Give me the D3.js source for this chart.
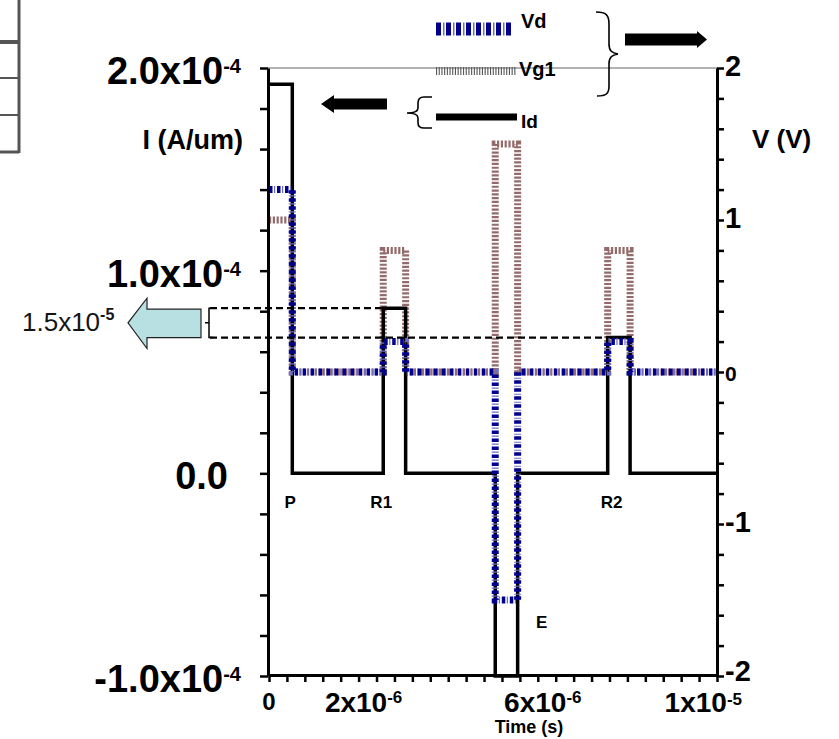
<!DOCTYPE html>
<html>
<head>
<meta charset="utf-8">
<script src="https://cdn.jsdelivr.net/npm/d3@7"></script>
<style>
  body { margin: 0; background: #fff; }
  svg { display: block; font-family: "Liberation Sans", Arial, sans-serif; }
</style>
</head>
<body>
<svg id="chart" width="839" height="739"></svg>
<script>
// Pulse sequence: edges of each interval (s) and the level held in it
const timeEdges = [0, 0.52e-6, 2.55e-6, 3.05e-6, 5.05e-6, 5.55e-6, 7.56e-6, 8.06e-6, 1.0e-5];
const idLevels = [1.92e-4, 0, 0.815e-4, 0, -1.0e-4, 0, 0.67e-4, 0];   // A/um
const vdLevels = [1.2, 0, 0.2, 0, -1.5, 0, 0.2, 0];                   // V
const vg1Levels = [1.0, 0, 0.8, 0, 1.5, 0, 0.8, 0];                   // V

// Axis ticks and labels
const iTicks = [2e-4, 1e-4, 0, -1e-4];
const iTickText = [['2.0x10', '-4'], ['1.0x10', '-4'], ['0.0', ''], ['-1.0x10', '-4']];
const vTicks = [2, 1, 0, -1, -2];
const vTickText = ['2', '1', '0', '-1', '-2'];
const tTicks = [0, 2e-6, 6e-6, 1e-5];
const tTickText = [['0', ''], ['2x10', '-6'], ['6x10', '-6'], ['1x10', '-5']];
const pulseLabels = ['P', 'R1', 'E', 'R2'];
const legendNames = ['Vd', 'Vg1', 'Id'];
const deltaText = ['1.5x10', '-5'];

const svg = d3.select('#chart');

// Scales
const x = d3.scaleLinear().domain([0, 1e-5]).range([269, 717]);
const yI = d3.scaleLinear().domain([-1e-4, 2e-4]).range([676, 68]);
const yV = d3.scaleLinear().domain([-2, 2]).range([676, 68]);

// step series -> points
function steps(levels) {
    const pts = levels.map((v, i) => ({t: timeEdges[i], v: v}));
    pts.push({t: timeEdges[timeEdges.length - 1], v: levels[levels.length - 1]});
    return pts;
}
const lineI = d3.line().curve(d3.curveStepAfter).x(d => x(d.t)).y(d => yI(d.v));
const lineV = d3.line().curve(d3.curveStepAfter).x(d => x(d.t)).y(d => yV(d.v));

// bit of a table cut off at the left edge
const tbl = svg.append('g').attr('stroke', '#555').attr('fill', 'none');
tbl.append('line').attr('x1', 19).attr('x2', 19).attr('y1', 0).attr('y2', 153).attr('stroke-width', 3);
[[42, 4], [78, 2], [115, 2], [152, 3]].forEach(r => {
    tbl.append('line').attr('x1', 0).attr('x2', 19).attr('y1', r[0]).attr('y2', r[0]).attr('stroke-width', r[1]);
});

// top frame line
svg.append('line')
    .attr('x1', x(0) - 1).attr('x2', x(1e-5))
    .attr('y1', yI(2e-4)).attr('y2', yI(2e-4))
    .attr('stroke', '#999').attr('stroke-width', 1.5);

// Curves
svg.append('path').datum(steps(vg1Levels))
    .attr('d', lineV).attr('fill', 'none')
    .attr('stroke', '#946a6a').attr('stroke-width', 7)
    .attr('stroke-dasharray', '2.2,1.6');

svg.append('path').datum(steps(idLevels))
    .attr('d', lineI).attr('fill', 'none')
    .attr('stroke', '#000').attr('stroke-width', 3.5);

// Vd: dark blocks plus thin light bars
svg.append('path').datum(steps(vdLevels))
    .attr('d', lineV).attr('fill', 'none')
    .attr('stroke', '#7070c0').attr('stroke-width', 7)
    .attr('stroke-dasharray', '1.2,6.8').attr('stroke-dashoffset', 3);
svg.append('path').datum(steps(vdLevels))
    .attr('d', lineV).attr('fill', 'none')
    .attr('stroke', '#000090').attr('stroke-width', 7)
    .attr('stroke-dasharray', '3.5,4.5');

// Axes
const iMinor = d3.range(16).map(i => -1e-4 + i * 0.2e-4);
const vMinor = d3.range(21).map(i => -2 + i * 0.2);
const tMinor = d3.range(26).map(i => i * 4e-7);

const gLeft = svg.append('g')
    .attr('transform', 'translate(' + (x(0) - 1) + ',0)')
    .call(d3.axisLeft(yI).tickValues(iMinor).tickSize(8).tickSizeOuter(0).tickFormat(''));
const gRight = svg.append('g')
    .attr('transform', 'translate(' + x(1e-5) + ',0)')
    .call(d3.axisRight(yV).tickValues(vMinor).tickSize(7).tickSizeOuter(0).tickFormat(''));
const gBottom = svg.append('g')
    .attr('transform', 'translate(0,' + (yI(-1e-4) - 1) + ')')
    .call(d3.axisBottom(x).tickValues(tMinor).tickSize(7).tickSizeOuter(0).tickFormat(''));
[gLeft, gRight, gBottom].forEach(g => {
    g.select('.domain').attr('stroke', '#000').attr('stroke-width', 3);
    g.selectAll('.tick line').attr('stroke', '#000').attr('stroke-width', 2.5);
});

// left tick labels with superscripts
svg.append('g').selectAll('text')
    .data(iTicks)
    .join('text')
    .attr('x', (d, i) => iTickText[i][1] ? 241 : 228)
    .attr('y', d => yI(d) + 16)
    .attr('text-anchor', 'end')
    .attr('font-weight', 'bold')
    .each(function (d, i) {
        const t = d3.select(this);
        t.append('tspan').attr('font-size', 38).text(iTickText[i][0]);
        if (iTickText[i][1]) {
            t.append('tspan').attr('font-size', 20).attr('dy', -11).text(iTickText[i][1]);
        }
    });

// right tick labels
svg.append('g').selectAll('text')
    .data(vTicks)
    .join('text')
    .attr('x', x(1e-5) + 8)
    .attr('y', d => yV(d) + (d === 0 ? 9 : d === -2 ? 5 : 8))
    .attr('font-weight', 'bold')
    .attr('font-size', d => d === 0 ? 21 : 29)
    .text((d, i) => vTickText[i]);

// bottom tick labels
const last = tTicks.length - 1;
svg.append('g').selectAll('text')
    .data(tTicks)
    .join('text')
    .attr('x', (d, i) => i === last ? x(d) + 25 : x(d) + (tTickText[i][1] ? 5 : 0))
    .attr('y', (d, i) => tTickText[i][1] ? 712 : 710)
    .attr('text-anchor', (d, i) => i === last ? 'end' : 'middle')
    .attr('font-weight', 'bold')
    .each(function (d, i) {
        const t = d3.select(this);
        t.append('tspan').attr('font-size', tTickText[i][1] ? 28 : 24).text(tTickText[i][0]);
        if (tTickText[i][1]) {
            t.append('tspan').attr('font-size', 17).attr('dy', i === last ? -7 : -9).text(tTickText[i][1]);
        }
    });

// axis titles
svg.append('text').attr('x', 243).attr('y', 149).attr('text-anchor', 'end')
    .attr('font-size', 27).attr('font-weight', 'bold').text('I (A/um)');
svg.append('text').attr('x', 752).attr('y', 148)
    .attr('font-size', 26).attr('font-weight', 'bold').text('V (V)');
svg.append('text').attr('x', 529).attr('y', 733).attr('text-anchor', 'middle')
    .attr('font-size', 18).attr('font-weight', 'bold').text('Time (s)');

// pulse labels
const pulsePos = [
    [x(timeEdges[1]) - 2, yI(0) + 35],
    [x(timeEdges[2]) - 2, yI(0) + 35],
    [x(timeEdges[5]) + 24, yI(-1e-4) - 48],
    [x(timeEdges[6]) + 4, yI(0) + 35]
];
svg.append('g').selectAll('text')
    .data(pulseLabels)
    .join('text')
    .attr('x', (d, i) => pulsePos[i][0])
    .attr('y', (d, i) => pulsePos[i][1])
    .attr('text-anchor', 'middle')
    .attr('font-size', 17).attr('font-weight', 'bold')
    .text(d => d);

// 1.5x10-5 annotation: dashed guides between R1 and R2 read current
const yTop = yI(idLevels[2]), yBot = yI(idLevels[6]);
const ann = svg.append('g');
ann.append('line').attr('x1', 210).attr('x2', x(timeEdges[2])).attr('y1', yTop).attr('y2', yTop)
    .attr('stroke', '#000').attr('stroke-width', 2.2).attr('stroke-dasharray', '7,4');
ann.append('line').attr('x1', 210).attr('x2', x(timeEdges[6])).attr('y1', yBot).attr('y2', yBot)
    .attr('stroke', '#000').attr('stroke-width', 2.2).attr('stroke-dasharray', '7,4');
const yMid = (yTop + yBot) / 2;
ann.append('path')
    .attr('d', `M213,${yTop} L209,${yTop} L209,${yBot} L213,${yBot} M209,${yMid} L205,${yMid}`)
    .attr('fill', 'none').attr('stroke', '#000').attr('stroke-width', 1.5);
ann.append('path')
    .attr('d', `M201,${yTop + 1} L147,${yTop + 1} L147,${yTop - 10} L128,${yMid} L147,${yBot + 11} L147,${yBot} L201,${yBot} Z`)
    .attr('fill', '#b8dfe2').attr('stroke', '#222').attr('stroke-width', 1.2);
const dt = ann.append('text').attr('x', 22).attr('y', yMid + 8).attr('fill', '#141414');
dt.append('tspan').attr('font-size', 26).text(deltaText[0]);
dt.append('tspan').attr('font-size', 16).attr('font-weight', 'bold').attr('dy', -11).text(deltaText[1]);

// Legend
const lg = svg.append('g');
lg.append('line').attr('x1', 436).attr('x2', 513).attr('y1', 29).attr('y2', 29)
    .attr('stroke', '#7070c0').attr('stroke-width', 13).attr('stroke-dasharray', '1.5,8.5').attr('stroke-dashoffset', 3);
lg.append('line').attr('x1', 436).attr('x2', 513).attr('y1', 29).attr('y2', 29)
    .attr('stroke', '#000088').attr('stroke-width', 13).attr('stroke-dasharray', '5,5');
lg.append('line').attr('x1', 436).attr('x2', 517).attr('y1', 71).attr('y2', 71)
    .attr('stroke', '#555').attr('stroke-width', 8).attr('stroke-dasharray', '1.1,1.6');
lg.append('line').attr('x1', 436).attr('x2', 517).attr('y1', 117).attr('y2', 117)
    .attr('stroke', '#000').attr('stroke-width', 7);
lg.selectAll('text.name')
    .data(legendNames)
    .join('text')
    .attr('class', 'name')
    .attr('x', (d, i) => [521, 519, 521][i])
    .attr('y', (d, i) => [28, 76, 128][i])
    .attr('font-size', (d, i) => i === 2 ? 19 : 20)
    .attr('font-weight', 'bold')
    .text(d => d);

// braces and arrows
lg.append('path')
    .attr('d', 'M596,12 C606,12 609,15 609,24 L609,44 C609,51 612,53 618,54 C612,55 609,57 609,64 L609,86 C609,94 606,96 597,96')
    .attr('fill', 'none').attr('stroke', '#000').attr('stroke-width', 1.6);
lg.append('path')
    .attr('d', 'M432,97 L424,97 C420,97 418,99 418,103 L418,108 C418,111 415,113 407,113 C415,113 418,115 418,118 L418,123 C418,126 420,128 424,128 L432,128')
    .attr('fill', 'none').attr('stroke', '#000').attr('stroke-width', 1.6);
lg.append('path')
    .attr('d', 'M625,33.5 L697,33.5 L697,31 L707,39.5 L697,48 L697,45.5 L625,45.5 Z')
    .attr('fill', '#000');
lg.append('path')
    .attr('d', 'M387,98.5 L334,98.5 L334,95 L321,104 L334,113 L334,109.5 L387,109.5 Z')
    .attr('fill', '#000');
</script>
</body>
</html>
